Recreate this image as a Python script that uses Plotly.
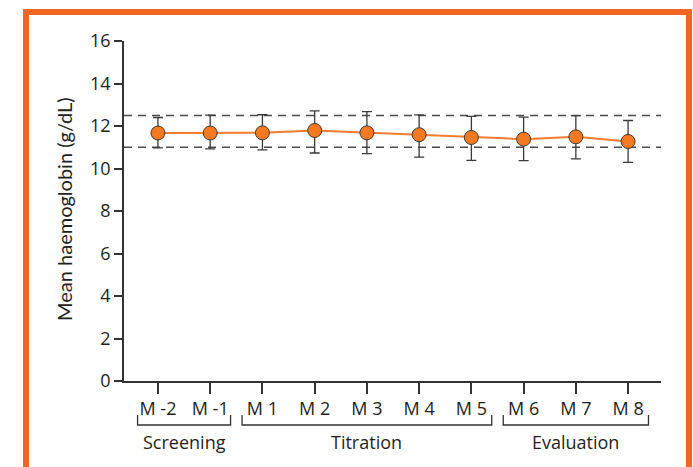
import plotly.graph_objects as go

# ---------------- data ----------------
months = ["M -2", "M -1", "M 1", "M 2", "M 3", "M 4", "M 5", "M 6", "M 7", "M 8"]
mean_hb = [11.67, 11.67, 11.68, 11.79, 11.68, 11.59, 11.46, 11.38, 11.49, 11.27]
err_plus = [0.73, 0.84, 0.85, 0.92, 1.00, 0.93, 0.99, 1.04, 1.00, 0.99]
err_minus = [0.70, 0.75, 0.80, 1.06, 0.98, 1.05, 1.08, 1.01, 1.04, 0.98]
ref_low, ref_high = 11.0, 12.5
phases = ["Screening", "Titration", "Evaluation"]
phase_start = [0, 2, 7]
phase_end = [1, 6, 9]
y_ticks = [0, 2, 4, 6, 8, 10, 12, 14, 16]

# ---------------- layout geometry ----------------
W, H = 693, 467
ML, MR, MT, MB = 124, 32, 41, 86
PW, PH = W - ML - MR, H - MT - MB

def px_x(p):
    return (p - ML) / PW

def px_y(p):
    return (H - MB - p) / PH

ORANGE = "#F26522"
DARK = "#333333"
TXT = "#231F20"
FONT = "Open Sans"
TFONT = "Lato"

fig = go.Figure()

fig.add_trace(go.Scatter(
    x=months, y=mean_hb,
    mode="lines+markers",
    line=dict(color="#F47B30", width=2),
    marker=dict(size=14, color="#F47920", line=dict(color="#3a3a3a", width=1)),
    error_y=dict(type="data", symmetric=False, array=err_plus, arrayminus=err_minus,
                 color="#3a3a3a", thickness=1.3, width=5),
    showlegend=False,
    cliponaxis=False,
))

shapes = []
# reference dashed lines
for v in (ref_low, ref_high):
    shapes.append(dict(type="line", xref="paper", yref="y", x0=0, x1=1, y0=v, y1=v,
                       line=dict(color="#4a4a4a", width=1.5, dash="8px,6px"), layer="below"))

# phase brackets
bracket_y = px_y(425)
bracket_top = px_y(415)
annotations = []
for name, s, e in zip(phases, phase_start, phase_end):
    x0, x1 = s - 0.39, e + 0.39
    shapes.append(dict(type="path", xref="x", yref="paper",
                       path=f"M {x0},{bracket_top} L {x0},{bracket_y} L {x1},{bracket_y} L {x1},{bracket_top}",
                       line=dict(color=DARK, width=1.3)))
    annotations.append(dict(x=(s + e) / 2, y=px_y(442), xref="x", yref="paper",
                            text=name, showarrow=False, xanchor="center", yanchor="middle",
                            font=dict(family=FONT, size=18, color=TXT)))

# y-axis title as rotated annotation
annotations.append(dict(x=px_x(64), y=px_y(209), xref="paper", yref="paper",
                        text="Mean haemoglobin (g/dL)", showarrow=False, textangle=-90,
                        xanchor="center", yanchor="middle",
                        font=dict(family=TFONT, size=20, color=TXT)))

# orange frame
shapes.append(dict(type="rect", xref="paper", yref="paper",
                   x0=px_x(26), x1=px_x(689), y0=px_y(490), y1=px_y(12),
                   line=dict(color=ORANGE, width=6)))

fig.update_layout(
    width=W, height=H,
    margin=dict(l=ML, r=MR, t=MT, b=MB),
    paper_bgcolor="white", plot_bgcolor="white",
    shapes=shapes, annotations=annotations,
    font=dict(family=FONT, size=18, color=TXT),
    xaxis=dict(
        type="category", range=[-0.65, 9.63],
        showline=True, linecolor=DARK, linewidth=1.5,
        ticks="outside", ticklen=11, tickwidth=1.5, tickcolor=DARK,
        showgrid=False, zeroline=False,
        tickfont=dict(family=FONT, size=18, color=TXT),
    ),
    yaxis=dict(
        range=[0, 16], tickvals=y_ticks,
        showline=True, linecolor=DARK, linewidth=1.5,
        ticks="outside", ticklen=8, tickwidth=1.5, tickcolor=DARK,
        showgrid=False, zeroline=False,
        tickfont=dict(family=FONT, size=18, color=TXT),
    ),
)

fig.write_html("out.html", config={"displayModeBar": False},
               post_script="document.body.style.margin='0';")
